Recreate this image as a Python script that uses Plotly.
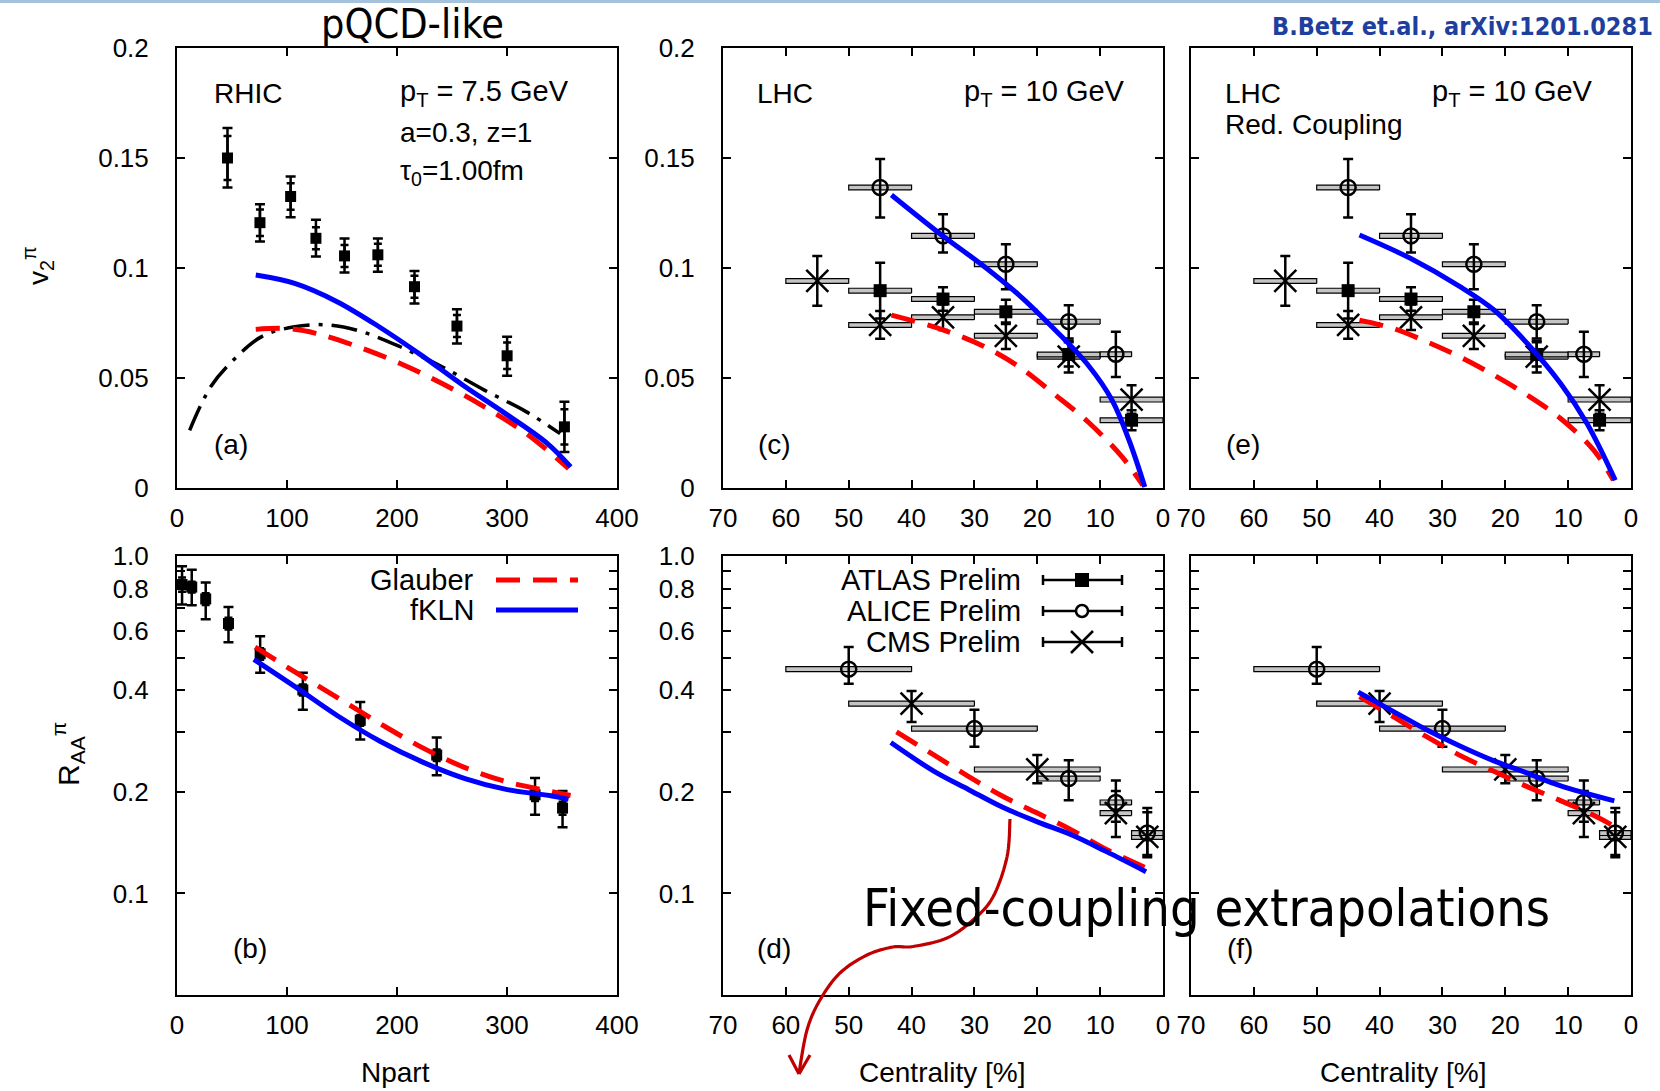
import plotly.graph_objects as go
import numpy as np

W, H = 1660, 1091

# ------------------------------------------------------------------ data
# (a) RHIC v2 vs Npart
rhic_npart_v2 = [45.9, 75.4, 103.3, 126.3, 152.3, 182.6, 215.9, 254.5, 300.1, 352.2]
rhic_v2 = [0.150, 0.1206, 0.1325, 0.1135, 0.1055, 0.1060, 0.0915, 0.0736, 0.0601, 0.0278]
rhic_v2_hi = [0.1636, 0.1290, 0.1416, 0.1219, 0.1134, 0.1134, 0.0986, 0.0812, 0.0687, 0.0392]
rhic_v2_lo = [0.1366, 0.1120, 0.1231, 0.1052, 0.0979, 0.0983, 0.0839, 0.0657, 0.0510, 0.0164]
rhic_v2_stat = [0.010, 0.006, 0.006, 0.005, 0.005, 0.005, 0.005, 0.005, 0.006, 0.008]

a_glauber_npart = [71.6, 99.5, 126.3, 164.6, 202.9, 241.0, 279.4, 317.7, 356.0]
a_glauber_v2 = [0.0721, 0.0725, 0.0703, 0.0642, 0.0566, 0.0475, 0.0369, 0.0247, 0.0088]
a_fkln_npart = [71.6, 107.0, 145.5, 183.7, 222.0, 260.0, 298.6, 336.8, 357.9]
a_fkln_v2 = [0.0968, 0.0930, 0.0847, 0.0733, 0.0604, 0.0467, 0.0338, 0.0202, 0.0096]
a_pqcd_npart = [11.5, 30.6, 49.8, 76.6, 107.0, 137.8, 168.4, 202.9, 241.0, 279.4, 317.7, 348.3]
a_pqcd_v2 = [0.0262, 0.0460, 0.0574, 0.0687, 0.0733, 0.0741, 0.0710, 0.0642, 0.0551, 0.0445, 0.0346, 0.0247]

# (b) RHIC RAA vs Npart
rhic_npart_raa = [4.6, 13.4, 26.1, 46.8, 75.6, 114.4, 166.6, 236.1, 325.5, 350.5]
rhic_raa = [0.823, 0.809, 0.746, 0.631, 0.513, 0.401, 0.326, 0.257, 0.196, 0.179]
rhic_raa_hi = [0.933, 0.910, 0.834, 0.706, 0.578, 0.451, 0.369, 0.290, 0.220, 0.201]
rhic_raa_lo = [0.718, 0.715, 0.650, 0.555, 0.451, 0.350, 0.286, 0.224, 0.171, 0.157]
rhic_raa_stat = [0.04, 0.03, 0.03, 0.025, 0.02, 0.015, 0.012, 0.01, 0.008, 0.008]

b_glauber_npart = [71.0, 108.3, 146.6, 185.0, 223.4, 261.8, 300.2, 338.6, 357.8]
b_glauber_raa = [0.537, 0.451, 0.379, 0.318, 0.270, 0.236, 0.214, 0.201, 0.195]
b_fkln_npart = [69.9, 108.3, 146.6, 185.0, 223.4, 261.8, 300.2, 338.6, 355.9]
b_fkln_raa = [0.494, 0.408, 0.335, 0.282, 0.245, 0.219, 0.203, 0.195, 0.190]

# LHC v2 data (panels c, e)
alice_v2_cent = [45, 35, 25, 15, 7.5]
alice_v2_bin_lo = [40, 30, 20, 10, 5]
alice_v2_bin_hi = [50, 40, 30, 20, 10]
alice_v2 = [0.1366, 0.1146, 0.1017, 0.0756, 0.0608]
alice_v2_hi = [0.1495, 0.1244, 0.1108, 0.0831, 0.0710]
alice_v2_lo = [0.1230, 0.1071, 0.0903, 0.0680, 0.0505]

atlas_v2_cent = [45, 35, 25, 15, 5]
atlas_v2_bin_lo = [40, 30, 20, 10, 0]
atlas_v2_bin_hi = [50, 40, 30, 20, 10]
atlas_v2 = [0.0897, 0.0859, 0.0801, 0.0607, 0.0308]
atlas_v2_err = [0.0127, 0.0053, 0.0055, 0.0055, 0.0045]

cms_v2_cent = [55, 45, 35, 25, 15, 5]
cms_v2_bin_lo = [50, 40, 30, 20, 10, 0]
cms_v2_bin_hi = [60, 50, 40, 30, 20, 10]
cms_v2 = [0.0941, 0.0741, 0.0776, 0.0692, 0.0597, 0.0402]
cms_v2_err = [0.0113, 0.0063, 0.0058, 0.0060, 0.0072, 0.0065]

c_fkln_cent = [43.2, 34.9, 28.4, 22.9, 17.4, 11.9, 8.1, 5.4, 2.9]
c_fkln_v2 = [0.1332, 0.1143, 0.1006, 0.0877, 0.0725, 0.0558, 0.0399, 0.0217, 0.0005]
c_glauber_cent = [43.2, 34.9, 28.4, 22.9, 17.4, 11.9, 6.5, 3.2]
c_glauber_v2 = [0.0786, 0.0718, 0.0642, 0.0551, 0.0429, 0.0300, 0.0141, 0.0012]

e_fkln_cent = [43.2, 35.1, 27.2, 21.8, 16.5, 11.2, 7.0, 2.5]
e_fkln_v2 = [0.1150, 0.1044, 0.0915, 0.0809, 0.0657, 0.0475, 0.0293, 0.0035]
e_glauber_cent = [43.2, 37.8, 32.5, 27.2, 21.8, 16.5, 11.2, 5.9, 2.8]
e_glauber_v2 = [0.0763, 0.0725, 0.0665, 0.0596, 0.0513, 0.0422, 0.0316, 0.0171, 0.0035]

# LHC RAA data (panels d, f)
alice_raa_cent = [50, 30, 15, 7.5, 2.5]
alice_raa_bin_lo = [40, 20, 10, 5, 0]
alice_raa_bin_hi = [60, 40, 20, 10, 5]
alice_raa = [0.462, 0.308, 0.219, 0.186, 0.151]
alice_raa_hi = [0.537, 0.350, 0.248, 0.216, 0.179]
alice_raa_lo = [0.418, 0.272, 0.189, 0.163, 0.130]

cms_raa_cent = [40, 20, 7.5, 2.5]
cms_raa_bin_lo = [30, 10, 5, 0]
cms_raa_bin_hi = [50, 30, 10, 5]
cms_raa = [0.365, 0.233, 0.173, 0.147]
cms_raa_hi = [0.398, 0.257, 0.201, 0.174]
cms_raa_lo = [0.322, 0.212, 0.147, 0.128]

d_glauber_cent = [42.4, 36.4, 30.9, 25.5, 20.0, 14.5, 9.0, 2.7]
d_glauber_raa = [0.301, 0.257, 0.222, 0.194, 0.173, 0.154, 0.135, 0.119]
d_fkln_cent = [43.3, 36.4, 30.9, 25.5, 20.0, 14.5, 9.0, 2.7]
d_fkln_raa = [0.280, 0.230, 0.203, 0.180, 0.163, 0.149, 0.133, 0.116]

f_fkln_cent = [43.4, 37.9, 32.6, 27.3, 22.0, 16.7, 11.4, 2.65]
f_fkln_raa = [0.395, 0.347, 0.306, 0.274, 0.248, 0.228, 0.209, 0.188]
f_glauber_cent = [43.2, 37.9, 32.6, 27.3, 22.0, 16.7, 11.4, 6.1, 2.65]
f_glauber_raa = [0.383, 0.335, 0.292, 0.257, 0.231, 0.208, 0.189, 0.171, 0.158]

# tick labels
npart_ticks = [0, 100, 200, 300, 400]
cent_ticks = [70, 60, 50, 40, 30, 20, 10, 0]
v2_ticks = [0, 0.05, 0.1, 0.15, 0.2]
v2_ticktext = ["0", "0.05", "0.1", "0.15", "0.2"]
raa_ticks = [0.1, 0.2, 0.3, 0.4, 0.5, 0.6, 0.7, 0.8, 0.9, 1.0]
raa_ticktext = ["0.1", "0.2", " ", "0.4", " ", "0.6", " ", "0.8", " ", "1.0"]

# ------------------------------------------------------------------ style
FONT = "Liberation Sans, Arial, Helvetica, sans-serif"
SLIDE_FONT = "DejaVu Sans Condensed, DejaVu Sans, sans-serif"
RED = "#FF0000"
BLUE = "#0000FF"
TXT = 28
TICK = 26

fig = go.Figure()


def P(x, y):
    return x / W, 1 - y / H


xdom = {"L": (177, 617), "M": (723, 1163), "R": (1191, 1631)}
ydom = {"T": (48, 488), "B": (556, 995)}

panels = {
    "a": (1, "L", "T"), "c": (2, "M", "T"), "e": (3, "R", "T"),
    "b": (4, "L", "B"), "d": (5, "M", "B"), "f": (6, "R", "B"),
}


def refs(k):
    i = panels[k][0]
    return ("x" if i == 1 else "x%d" % i), ("y" if i == 1 else "y%d" % i)


layout_axes = {}
for k, (i, col, row) in panels.items():
    xn = "xaxis" if i == 1 else "xaxis%d" % i
    yn = "yaxis" if i == 1 else "yaxis%d" % i
    x0, x1 = xdom[col]
    y0, y1 = ydom[row]
    xr, yr = refs(k)
    common = dict(showline=True, linecolor="black", linewidth=2, mirror="ticks",
                  ticks="inside", ticklen=8, tickwidth=1.5, tickcolor="black",
                  showgrid=False, zeroline=False, automargin=False,
                  tickfont=dict(family=FONT, size=TICK, color="black"))
    if col == "L":
        xa = dict(range=[0, 400], tickvals=npart_ticks, ticktext=[str(t) for t in npart_ticks])
    else:
        xa = dict(range=[70, 0], tickvals=cent_ticks, ticktext=[str(t) for t in cent_ticks])
    xa.update(common)
    xa.update(domain=[x0 / W, x1 / W], anchor=yr, ticklabelstandoff=6)
    if row == "T":
        ya = dict(range=[0, 0.2], tickvals=v2_ticks, ticktext=v2_ticktext)
    else:
        ya = dict(type="log", range=[np.log10(0.05), 0], tickvals=raa_ticks, ticktext=raa_ticktext)
    ya.update(common)
    ya.update(domain=[1 - y1 / H, 1 - y0 / H], anchor=xr, ticklabelstandoff=21,
              showticklabels=(col != "R"))
    layout_axes[xn] = xa
    layout_axes[yn] = ya


def add_boxes(k, lo, hi, yv, log=False):
    xr, yr = refs(k)
    xs, ys = [], []
    for a, b, v in zip(lo, hi, yv):
        if log:
            y0, y1 = v / 1.017, v * 1.017
        else:
            y0, y1 = v - 0.0011, v + 0.0011
        xs += [a, b, b, a, a, None]
        ys += [y0, y0, y1, y1, y0, None]
    fig.add_trace(go.Scatter(x=xs, y=ys, xaxis=xr, yaxis=yr, mode="lines", fill="toself",
                             fillcolor="#C4C4C4", line=dict(color="black", width=1.2),
                             showlegend=False, hoverinfo="skip"))


def add_points(k, x, y, hi=None, lo=None, err=None, symbol="square", size=12, lw=2.5):
    xr, yr = refs(k)
    if err is not None:
        up, dn = list(err), list(err)
    else:
        up = [h - v for h, v in zip(hi, y)]
        dn = [v - l for l, v in zip(lo, y)]
    open_sym = symbol in ("circle-open", "x-thin")
    marker = dict(symbol=symbol, size=size, color="black",
                  line=dict(color="black", width=lw if open_sym else 0))
    fig.add_trace(go.Scatter(x=x, y=y, xaxis=xr, yaxis=yr, mode="markers", marker=marker,
                             error_y=dict(type="data", array=up, arrayminus=dn,
                                          color="black", thickness=2.5, width=5),
                             showlegend=False, hoverinfo="skip"))


def add_stat_caps(k, x, y, stat):
    xr, yr = refs(k)
    fig.add_trace(go.Scatter(x=x, y=y, xaxis=xr, yaxis=yr, mode="markers",
                             marker=dict(size=1, color="rgba(0,0,0,0)"),
                             error_y=dict(type="data", array=stat, color="black",
                                          thickness=2.5, width=4),
                             showlegend=False, hoverinfo="skip"))


def add_curve(k, x, y, color, dash="solid", width=5):
    xr, yr = refs(k)
    fig.add_trace(go.Scatter(x=x, y=y, xaxis=xr, yaxis=yr, mode="lines",
                             line=dict(color=color, width=width, dash=dash,
                                       shape="spline", smoothing=1.0),
                             showlegend=False, hoverinfo="skip"))


RDASH = "24px,13px"

# (a)
add_stat_caps("a", rhic_npart_v2, rhic_v2, rhic_v2_stat)
add_points("a", rhic_npart_v2, rhic_v2, rhic_v2_hi, rhic_v2_lo, symbol="square", size=11)
add_curve("a", a_pqcd_npart, a_pqcd_v2, "black", dash="26px,9px,4px,9px", width=3.5)
add_curve("a", a_glauber_npart, a_glauber_v2, RED, dash=RDASH)
add_curve("a", a_fkln_npart, a_fkln_v2, BLUE)

# (b)
add_stat_caps("b", rhic_npart_raa, rhic_raa, rhic_raa_stat)
add_points("b", rhic_npart_raa, rhic_raa, rhic_raa_hi, rhic_raa_lo, symbol="square", size=11)
add_curve("b", b_glauber_npart, b_glauber_raa, RED, dash=RDASH)
add_curve("b", b_fkln_npart, b_fkln_raa, BLUE)

# (c) and (e)
for k, fk_x, fk_y, gl_x, gl_y in [("c", c_fkln_cent, c_fkln_v2, c_glauber_cent, c_glauber_v2),
                                  ("e", e_fkln_cent, e_fkln_v2, e_glauber_cent, e_glauber_v2)]:
    add_boxes(k, cms_v2_bin_lo, cms_v2_bin_hi, cms_v2)
    add_boxes(k, atlas_v2_bin_lo, atlas_v2_bin_hi, atlas_v2)
    add_boxes(k, alice_v2_bin_lo, alice_v2_bin_hi, alice_v2)
    add_points(k, cms_v2_cent, cms_v2, err=cms_v2_err, symbol="x-thin", size=22)
    add_points(k, atlas_v2_cent, atlas_v2, err=atlas_v2_err, symbol="square", size=13)
    add_points(k, alice_v2_cent, alice_v2, alice_v2_hi, alice_v2_lo, symbol="circle-open", size=15)
    add_curve(k, gl_x, gl_y, RED, dash=RDASH)
    add_curve(k, fk_x, fk_y, BLUE)

# (d) and (f)
for k, fk_x, fk_y, gl_x, gl_y in [("d", d_fkln_cent, d_fkln_raa, d_glauber_cent, d_glauber_raa),
                                  ("f", f_fkln_cent, f_fkln_raa, f_glauber_cent, f_glauber_raa)]:
    add_boxes(k, cms_raa_bin_lo, cms_raa_bin_hi, cms_raa, log=True)
    add_boxes(k, alice_raa_bin_lo, alice_raa_bin_hi, alice_raa, log=True)
    add_points(k, cms_raa_cent, cms_raa, cms_raa_hi, cms_raa_lo, symbol="x-thin", size=22)
    add_points(k, alice_raa_cent, alice_raa, alice_raa_hi, alice_raa_lo, symbol="circle-open", size=15)
    add_curve(k, gl_x, gl_y, RED, dash=RDASH)
    add_curve(k, fk_x, fk_y, BLUE)

# ------------------------------------------------------------------ annotations
ann = []


def text(x, y, s, size=TXT, xanchor="left", font=FONT, color="black", angle=0, yanchor="middle"):
    px, py = P(x, y)
    ann.append(dict(x=px, y=py, xref="paper", yref="paper", text=s, showarrow=False,
                    xanchor=xanchor, yanchor=yanchor, textangle=angle,
                    font=dict(family=font, size=size, color=color)))


text(212, 93, "RHIC")
text(398, 93, "p<sub>T</sub> = 7.5 GeV", size=29)
text(398, 132, "a=0.3, z=1")
text(398, 172, "τ<sub>0</sub>=1.00fm")
text(212, 445, "(a)")
text(755, 93, "LHC")
text(962, 93, "p<sub>T</sub> = 10 GeV", size=29)
text(756, 445, "(c)")
text(1223, 93, "LHC")
text(1223, 124, "Red. Coupling")
text(1430, 93, "p<sub>T</sub> = 10 GeV", size=29)
text(1224, 445, "(e)")
text(231, 948, "(b)")
text(755, 948, "(d)")
text(1225, 948, "(f)")

text(38, 266, "v<sub>2</sub><sup>π</sup>", xanchor="center", angle=-90)
text(68, 754, "R<sub>AA</sub><sup>π</sup>", xanchor="center", angle=-90, size=30)
text(395, 1072, "Npart", xanchor="center")
text(942, 1072, "Centrality [%]", xanchor="center")
text(1403, 1072, "Centrality [%]", xanchor="center")

# legends
text(476, 580, "Glauber", xanchor="right", size=29)
text(476, 610, "fKLN", xanchor="right", size=29)
text(1023, 580, "ATLAS Prelim", xanchor="right", size=29)
text(1023, 611, "ALICE Prelim", xanchor="right", size=29)
text(1023, 642, "CMS Prelim", xanchor="right", size=29)

text(412, 24, "pQCD-like", xanchor="center", size=41, font=SLIDE_FONT)
text(1655, 27, "<b>B.Betz et.al., arXiv:1201.0281</b>", xanchor="right", size=25,
     font=SLIDE_FONT, color="#1F3F9F")
text(1206, 908, "Fixed-coupling extrapolations", xanchor="center", size=52, font=SLIDE_FONT)

# ------------------------------------------------------------------ shapes (legend keys, arrow, band)
shapes = []


def pline(x0, y0, x1, y1, color="black", width=2, dash="solid"):
    a, b = P(x0, y0)
    c, d = P(x1, y1)
    shapes.append(dict(type="line", xref="paper", yref="paper", x0=a, y0=b, x1=c, y1=d,
                       line=dict(color=color, width=width, dash=dash)))


# top band
shapes.append(dict(type="rect", xref="paper", yref="paper", x0=0, x1=1, y0=P(0, 3)[1], y1=1,
                   fillcolor="#A4C2DC", line=dict(width=0)))

# Glauber / fKLN keys
pline(496, 580, 578, 580, RED, 5, RDASH)
pline(496, 610, 578, 610, BLUE, 5)

# experiment keys
for yy in (580, 611, 642):
    pline(1043, yy, 1122, yy, "black", 2.5)
    pline(1043, yy - 5, 1043, yy + 5, "black", 2.5)
    pline(1122, yy - 5, 1122, yy + 5, "black", 2.5)
a0, b0 = P(1075, 573)
a1, b1 = P(1089, 587)
shapes.append(dict(type="rect", xref="paper", yref="paper", x0=a0, y0=b0, x1=a1, y1=b1,
                   fillcolor="black", line=dict(width=0)))
a0, b0 = P(1076, 605)
a1, b1 = P(1088, 617)
shapes.append(dict(type="circle", xref="paper", yref="paper", x0=a0, y0=b0, x1=a1, y1=b1,
                   fillcolor="white", line=dict(color="black", width=2.5)))
pline(1071, 631, 1093, 653, "black", 2.5)
pline(1071, 653, 1093, 631, "black", 2.5)

# red curly arrow (Catmull-Rom through traced points)
arrow_pts = np.array([(1010, 819), (1007, 857), (993, 897), (973, 920), (947, 938),
                      (913, 946.5), (893, 947), (867, 955), (840, 973), (820, 1000),
                      (807, 1030), (799, 1073)], dtype=float)
pts = np.vstack([arrow_pts[0], arrow_pts, arrow_pts[-1]])
curve = []
for i in range(1, len(pts) - 2):
    p0, p1, p2, p3 = pts[i - 1], pts[i], pts[i + 1], pts[i + 2]
    for t in np.linspace(0, 1, 10, endpoint=False):
        t2, t3 = t * t, t * t * t
        q = 0.5 * ((2 * p1) + (-p0 + p2) * t + (2 * p0 - 5 * p1 + 4 * p2 - p3) * t2
                   + (-p0 + 3 * p1 - 3 * p2 + p3) * t3)
        curve.append(q)
curve.append(arrow_pts[-1])
path = ""
for j, (x, y) in enumerate(curve):
    a, b = P(x, y)
    path += ("M" if j == 0 else "L") + "%.5f,%.5f " % (a, b)
shapes.append(dict(type="path", xref="paper", yref="paper", path=path,
                   line=dict(color="#C00000", width=3.2)))
pline(789, 1055, 799, 1074, "#C00000", 3.2)
pline(810, 1055, 799, 1074, "#C00000", 3.2)

fig.update_layout(template="none", width=W, height=H,
                  margin=dict(l=0, r=0, t=0, b=0, pad=0, autoexpand=False),
                  paper_bgcolor="white", plot_bgcolor="white", showlegend=False,
                  annotations=ann, shapes=shapes, **layout_axes)

fig.write_html("out.html")
